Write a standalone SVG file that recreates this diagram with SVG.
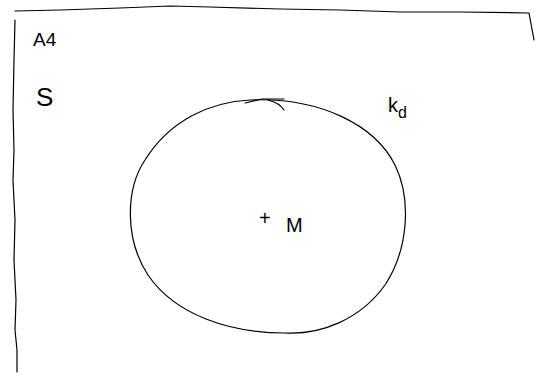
<svg xmlns="http://www.w3.org/2000/svg" width="544" height="376" viewBox="0 0 544 376">
<style>
.s{fill:none;stroke:#000;stroke-width:1.2;stroke-linecap:round;stroke-linejoin:round}
.t{font-family:"Liberation Sans",Arial,sans-serif;fill:#000;font-weight:normal}
</style>
<rect width="544" height="376" fill="#fff"/>
<g id="sheet">
<path class="s" d="M15,11 L60,10 L120,8 L170,6 L210,7 L280,9 L340,10 L400,12 L460,12 L529,13 L534,40"/>
<path class="s" d="M15,20 L14,60 L13,110 L14,150 L13,180 L15,220 L14,260 L16,300 L15,330 L17,350 L17,372"/>
<text class="t" x="33" y="46" font-size="19">A4</text>
<text class="t" x="36" y="106" font-size="26">S</text>
</g>
<g id="circle">
<path class="s" d="M250,100 C320,97 375,125 395,165 C412,200 408,250 385,285 C360,320 320,335 285,333 C230,333 175,315 148,275 C125,240 125,190 145,160 C170,120 210,102 250,100 Z"/>
<path class="s" d="M245,103 L262,99 L284,99 M268,100 C276,102 281,105 284,110"/>
<text class="t" x="388" y="112" font-size="20">k<tspan dy="6" font-size="16">d</tspan></text>
</g>
<g id="center">
<text class="t" x="259" y="225" font-size="20">+</text>
<text class="t" x="286" y="232" font-size="20">M</text>
</g>
<g id="connectors"></g>
</svg>
